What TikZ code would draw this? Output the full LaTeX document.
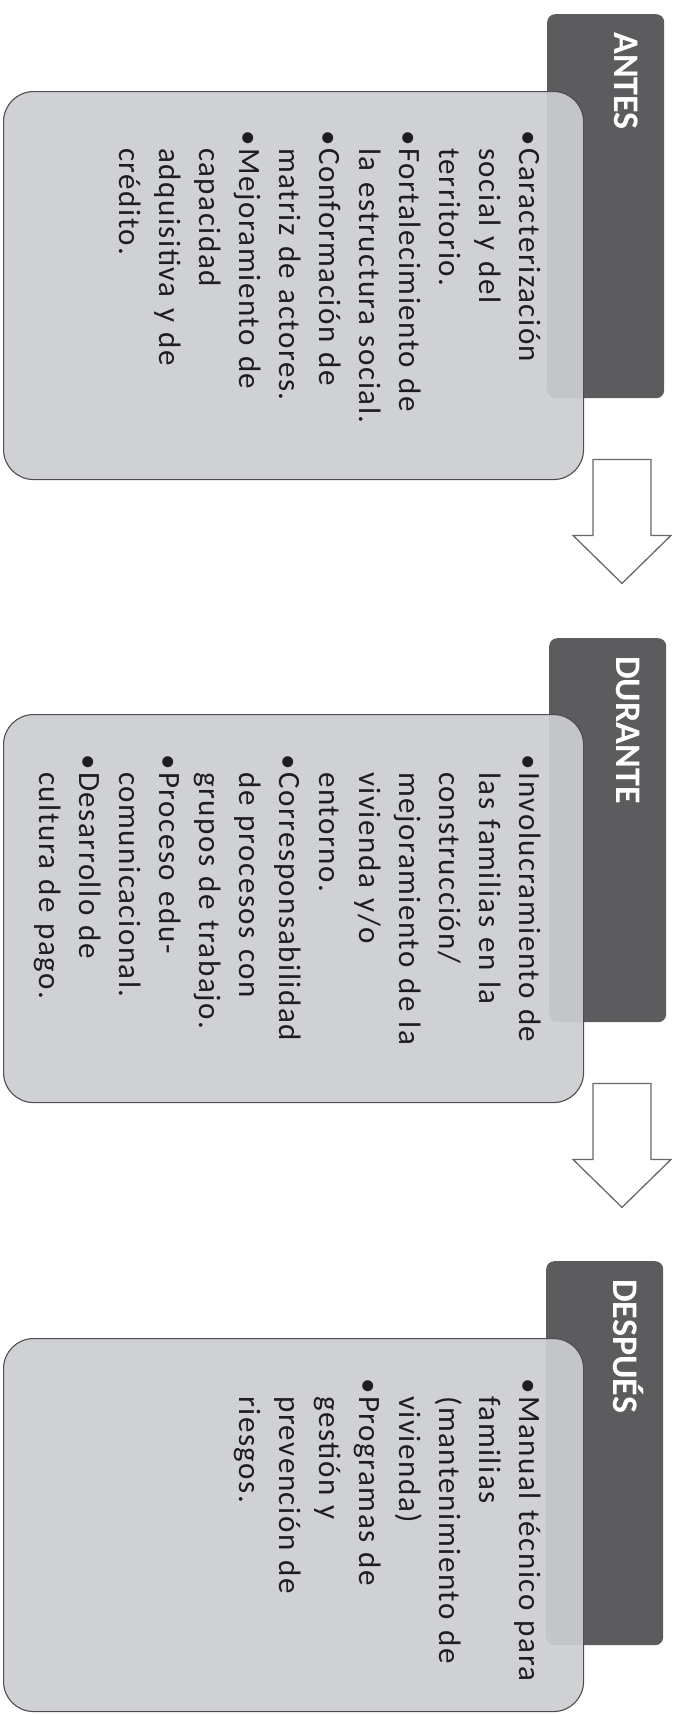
\documentclass[tikz,border=0pt]{standalone}
\usepackage{fontspec}
\newfontfamily\bodyfont{Carlito}[LetterSpace=5]
\newfontfamily\tabfont{Carlito}
\usetikzlibrary{positioning,calc}
\definecolor{stTab}{RGB}{92,92,94}
\definecolor{stCard}{RGB}{204,206,209}
\definecolor{stLine}{RGB}{78,78,80}
\definecolor{stArrow}{RGB}{105,105,105}
\definecolor{stInk}{RGB}{30,30,32}
\newcommand{\itm}[1]{\par\noindent\hangindent=18pt\hangafter=1\makebox[18pt][l]{\textbullet}#1}
\newcommand{\stagearrow}[1]{\draw[blk] ($(#1)+(-29,0)$) -- ++(58,0) -- ++(0,76)
  -- ++(20,0) -- ++(-49,48) -- ++(-49,-48) -- ++(20,0) -- cycle;}
\begin{document}
\begin{tikzpicture}[x=1pt,y=-1pt,
  tab/.style={fill=stTab,draw=none,rounded corners=8pt,inner sep=0pt,
              minimum width=117pt,minimum height=384pt,anchor=north west},
  card/.style={fill=stCard,fill opacity=0.93,draw=stLine,line width=1.1pt,
               rounded corners=30pt,inner sep=0pt,
               minimum width=580pt,minimum height=388pt,anchor=north west},
  ttl/.style={rotate=-90,anchor=base west,inner sep=0pt,text=white,
              font=\tabfont\bfseries\fontsize{36}{40}\selectfont},
  lst/.style={rotate=-90,anchor=north west,inner sep=0pt,text width=420pt,
              text=stInk,font=\bodyfont\fontsize{31}{40}\selectfont},
  blk/.style={fill=white,draw=stArrow,line width=1.3pt}]
\useasboundingbox (0,0) rectangle (677,1714);

% ===== Stage 1: Antes =====
\node[tab] (tab1) at (547,14) {};
\node[card] (card1) at (3,91) {};
\node[ttl] (lab1) at ($(tab1.north west)+(67,18)$) {ANTES};
\node[lst] (txt1) at ($(card1.north west)+(557,39)$)
  {\itm{Caracterización\newline social y del\newline territorio.}
   \itm{Fortalecimiento de\newline la estructura social.}
   \itm{Conformación de\newline matriz de actores.}
   \itm{Mejoramiento de\newline capacidad\newline adquisitiva y de\newline crédito.}\par};
\coordinate (arr1) at ($(tab1.south west)+(75,61)$);
\stagearrow{arr1}

% ===== Stage 2: Durante =====
\node[tab] (tab2) at (549,638) {};
\node[card] (card2) at (3,714) {};
\node[ttl] (lab2) at ($(tab2.north west)+(67,18)$) {DURANTE};
\node[lst] (txt2) at ($(card2.north west)+(557,40)$)
  {\itm{Involucramiento de\newline las familias en la\newline construcción/\newline
        mejoramiento de la\newline vivienda y/o\newline entorno.}
   \itm{Corresponsabilidad\newline de procesos con\newline grupos de trabajo.}
   \itm{Proceso edu-\newline comunicacional.}
   \itm{Desarrollo de\newline cultura de pago.}\par};
\coordinate (arr2) at ($(tab2.south west)+(73,61)$);
\stagearrow{arr2}

% ===== Stage 3: Despues =====
\node[tab] (tab3) at (546,1261) {};
\node[card,minimum height=373pt] (card3) at (3,1338) {};
\node[ttl] (lab3) at ($(tab3.north west)+(67,18)$) {DESPUÉS};
\node[lst] (txt3) at ($(card3.north west)+(557,40)$)
  {\itm{Manual técnico para\newline familias\newline (mantenimiento de\newline vivienda)}
   \itm{Programas de\newline gestión y\newline prevención de\newline riesgos.}\par};
\end{tikzpicture}
\end{document}
